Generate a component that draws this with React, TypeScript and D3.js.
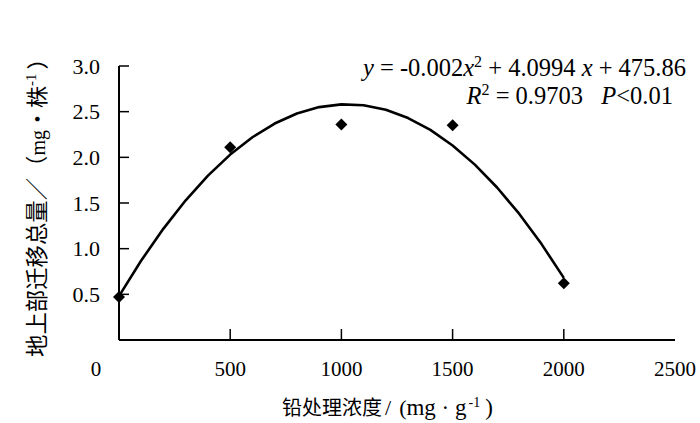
import React from 'react';
import * as d3 from 'd3';

const xTicks = [0, 500, 1000, 1500, 2000, 2500];
const yTicks = [0.5, 1.0, 1.5, 2.0, 2.5, 3.0];
const pointX = [0, 500, 1000, 1500, 2000];
const pointY = [0.47, 2.11, 2.36, 2.35, 0.62];
const curveX = [0, 100, 200, 300, 400, 500, 600, 700, 800, 900, 1000, 1100, 1200, 1300, 1400, 1500, 1600, 1700, 1800, 1900, 2000];
const curveY = [0.48, 0.87, 1.22, 1.53, 1.8, 2.03, 2.22, 2.37, 2.48, 2.55, 2.58, 2.57, 2.52, 2.43, 2.3, 2.13, 1.92, 1.67, 1.38, 1.05, 0.68];

const SERIF = '"Liberation Serif", "Times New Roman", serif';
const CJK = '"Noto Sans CJK SC", sans-serif';

export default function App() {
  const W = 700, H = 423;
  const x = d3.scaleLinear().domain([0, 2500]).range([119, 675]);
  const y = d3.scaleLinear().domain([0, 3]).range([340, 66]);
  const line = d3.line<number>().x((_, i) => x(curveX[i])).y((d) => y(d)).curve(d3.curveLinear);
  const diamond = d3.symbol().type(d3.symbolSquare).size(72)();
  const fmt = d3.format('.1f');

  return (
    <svg width={W} height={H} style={{ position: 'absolute', left: 0, top: 0, background: '#fff' }}>
      {/* axes */}
      <line x1={x(0)} x2={x(0)} y1={y(3)} y2={y(0)} stroke="#000" strokeWidth={2} />
      <line x1={x(0)} x2={x(2500)} y1={y(0)} y2={y(0)} stroke="#000" strokeWidth={2} />
      {yTicks.map((t) => (
        <g key={'y' + t}>
          <line x1={x(0)} x2={x(0) + 10} y1={y(t)} y2={y(t)} stroke="#000" strokeWidth={1.5} />
          <text x={100} y={y(t)} dy="0.35em" textAnchor="end" fontFamily={SERIF} fontSize={22} fill="#000">{fmt(t)}</text>
        </g>
      ))}
      {xTicks.map((t) => (
        <g key={'x' + t}>
          {t > 0 && t < 2500 && <line x1={x(t)} x2={x(t)} y1={y(0)} y2={y(0) - 11} stroke="#000" strokeWidth={1.5} />}
          <text x={t === 0 ? x(t) - 23 : x(t)} y={376} textAnchor="middle" fontFamily={SERIF} fontSize={21} fill="#000">{t}</text>
        </g>
      ))}
      {/* fitted curve */}
      <path d={line(curveY) || ''} fill="none" stroke="#000" strokeWidth={2.6} strokeLinejoin="round" />
      {/* points */}
      {pointX.map((px, i) => (
        <path key={'p' + i} d={diamond || ''} transform={`translate(${x(px)},${y(pointY[i])}) rotate(45)`} fill="#000" />
      ))}
      {/* equation */}
      <text x={686} y={76} textAnchor="end" fontFamily={SERIF} fontSize={24.5} fill="#000" xmlSpace="preserve">
        <tspan fontStyle="italic">y</tspan>
        <tspan> = -0.002</tspan>
        <tspan fontStyle="italic">x</tspan>
        <tspan fontSize={16} dy={-9}>2</tspan>
        <tspan dy={9}> + 4.0994 </tspan>
        <tspan fontStyle="italic">x</tspan>
        <tspan> + 475.86</tspan>
      </text>
      <text x={673} y={104} textAnchor="end" fontFamily={SERIF} fontSize={24.5} fill="#000" xmlSpace="preserve">
        <tspan fontStyle="italic">R</tspan>
        <tspan fontSize={16} dy={-9}>2</tspan>
        <tspan dy={9}> = 0.9703   </tspan>
        <tspan fontStyle="italic">P</tspan>
        <tspan>&lt;0.01</tspan>
      </text>
      {/* y title */}
      <text transform="translate(45,357) rotate(-90)" textAnchor="start" fill="#000">
        <tspan fontFamily={CJK} fontSize={22.4}>地上部迁移总量／（</tspan>
        <tspan fontFamily={SERIF} fontSize={20}>mg</tspan>
        <tspan fontFamily={CJK} fontSize={22}>・株</tspan>
        <tspan fontFamily={SERIF} fontSize={15} dy={-9}>-1</tspan>
        <tspan fontFamily={CJK} fontSize={22} dy={9} dx={4}>）</tspan>
      </text>
      {/* x title */}
      <text x={282} y={415} textAnchor="start" fill="#000">
        <tspan fontFamily={CJK} fontSize={20}>铅处理浓度</tspan>
        <tspan fontFamily={SERIF} fontSize={22} dx={3}>/</tspan>
        <tspan fontFamily={SERIF} fontSize={22} dx={8}>(</tspan>
        <tspan fontFamily={SERIF} fontSize={23}>mg · g</tspan>
        <tspan fontFamily={SERIF} fontSize={14} dy={-8} dx={2}>-1</tspan>
        <tspan fontFamily={SERIF} fontSize={23} dy={8} dx={5}>)</tspan>
      </text>
    </svg>
  );
}
